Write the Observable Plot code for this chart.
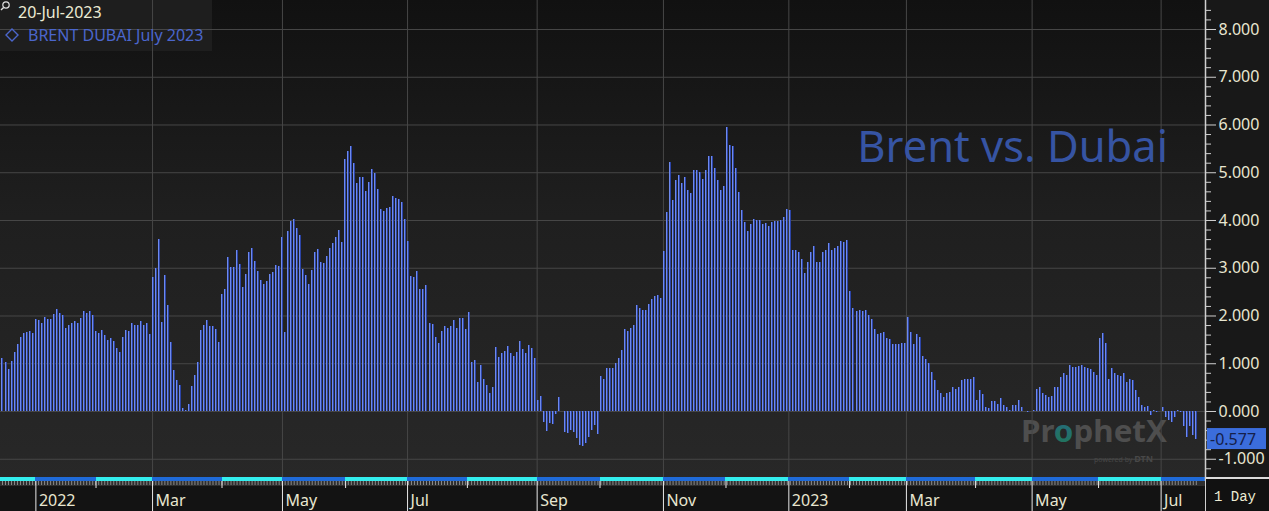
<!DOCTYPE html>
<html>
<head>
<meta charset="utf-8">
<script src="https://cdn.jsdelivr.net/npm/d3@7"></script>
<script src="https://cdn.jsdelivr.net/npm/@observablehq/plot@0.6"></script>
<style>
  html, body { margin: 0; padding: 0; background: #121212; }
  #wrap { position: relative; width: 1269px; height: 511px; overflow: hidden; font-family: "Noto Sans", "Open Sans", sans-serif; }
  .layer { position: absolute; left: 0; top: 0; }
</style>
</head>
<body>
<div id="wrap">
  <div class="layer" style="width:1205px;height:481px;background:linear-gradient(#111111 0%, #1f1f1f 45%, #282828 100%);"></div>
  <div class="layer" style="left:1205px;width:64px;height:511px;background:#181818;"></div>
  <div class="layer" style="top:481px;width:1205px;height:30px;background:#131313;"></div>
  <div class="layer" style="top:481px;width:1205px;height:5px;background:#2e2e2e;"></div>
  <div class="layer" style="width:212px;height:51px;background:#1e1e1e;"></div>
  <div id="under" class="layer"></div>
  <div id="chart" class="layer"></div>
  <div id="over" class="layer"></div>
</div>
<script>
// ---- data ----
const seriesName = "BRENT DUBAI July 2023";
const lastDate = "20-Jul-2023";
const chartTitle = "Brent vs. Dubai";
const lastLabel = "-0.577";

// daily spread values (trading days, Dec 2021 .. 20 Jul 2023)
const values = [
  1.10, 1.03, 0.88, 1.05, 1.24, 1.41, 1.55, 1.64, 1.66, 1.67,
  1.64, 1.92, 1.90, 1.85, 1.97, 1.92, 1.92, 2.04, 2.13, 2.06,
  2.01, 1.74, 1.81, 1.85, 1.88, 1.85, 1.95, 2.10, 2.06, 2.09,
  2.02, 1.67, 1.64, 1.69, 1.60, 1.48, 1.52, 1.46, 1.32, 1.24,
  1.55, 1.69, 1.67, 1.85, 1.81, 1.80, 1.88, 1.81, 1.85, 1.62,
  2.81, 3.00, 3.61, 1.87, 2.84, 2.22, 1.44, 0.86, 0.65, 0.54,
  0.07, 0.02, 0.14, 0.53, 0.75, 1.02, 1.70, 1.80, 1.91, 1.77,
  1.77, 1.72, 1.44, 2.46, 2.56, 3.23, 3.02, 3.02, 3.37, 3.08,
  2.60, 2.86, 3.34, 3.41, 3.14, 2.93, 2.74, 2.65, 2.72, 2.86,
  2.92, 3.06, 3.04, 3.65, 1.66, 3.76, 3.98, 4.03, 3.84, 3.69,
  2.97, 2.85, 2.67, 2.95, 3.34, 3.39, 3.13, 3.09, 3.25, 3.41,
  3.51, 3.65, 3.79, 3.53, 5.28, 5.44, 5.54, 5.19, 4.77, 4.89,
  4.91, 4.61, 4.80, 5.07, 4.98, 4.65, 4.23, 4.19, 4.26, 4.28,
  4.51, 4.47, 4.44, 4.38, 4.02, 3.56, 2.82, 2.80, 2.94, 2.55,
  2.55, 2.64, 1.84, 1.82, 1.54, 1.43, 1.68, 1.77, 1.73, 1.77,
  1.91, 1.73, 1.94, 1.94, 1.71, 2.08, 1.03, 1.07, 0.61, 0.96,
  0.68, 0.54, 0.38, 0.50, 1.33, 1.14, 1.21, 1.26, 1.36, 1.21,
  1.15, 1.24, 1.47, 1.29, 1.21, 1.38, 1.31, 1.10, 0.23, 0.31,
  -0.22, -0.41, -0.26, -0.27, -0.06, 0.29, -0.01, -0.43, -0.47, -0.40,
  -0.45, -0.57, -0.71, -0.73, -0.66, -0.54, -0.40, -0.29, -0.48, 0.73,
  0.66, 0.89, 0.89, 0.91, 1.00, 1.10, 1.28, 1.71, 1.68, 1.73,
  1.80, 2.22, 2.15, 2.12, 2.12, 2.25, 2.34, 2.41, 2.43, 2.36,
  3.35, 4.17, 5.22, 4.42, 4.84, 4.94, 4.77, 4.91, 4.63, 4.56,
  5.05, 5.05, 5.01, 4.86, 5.05, 5.35, 5.33, 5.08, 4.84, 4.63,
  4.72, 5.95, 5.56, 5.54, 5.08, 4.58, 4.21, 3.95, 3.77, 3.91,
  4.02, 4.00, 4.00, 3.91, 3.93, 3.88, 3.95, 3.97, 3.97, 4.00,
  4.07, 4.23, 4.21, 3.37, 3.37, 3.34, 3.18, 2.88, 3.13, 3.32,
  3.46, 3.11, 3.13, 3.34, 3.37, 3.51, 3.37, 3.41, 3.46, 3.55,
  3.53, 3.58, 2.51, 2.15, 2.09, 2.12, 2.09, 2.12, 2.01, 1.93,
  1.71, 1.61, 1.64, 1.66, 1.52, 1.50, 1.40, 1.40, 1.40, 1.42,
  1.43, 1.96, 1.66, 1.40, 1.61, 1.56, 1.15, 1.08, 1.01, 0.82,
  0.64, 0.44, 0.37, 0.29, 0.38, 0.40, 0.50, 0.47, 0.50, 0.64,
  0.68, 0.66, 0.66, 0.72, 0.23, 0.45, 0.36, 0.09, 0.06, 0.20,
  0.20, 0.15, 0.27, 0.13, 0.08, 0.03, 0.13, 0.13, 0.22, 0.08,
  0.01, -0.03, -0.01, 0.03, 0.47, 0.50, 0.38, 0.34, 0.30, 0.31,
  0.51, 0.50, 0.72, 0.79, 0.75, 0.96, 0.93, 0.93, 0.94, 0.96,
  0.93, 0.89, 0.87, 0.82, 0.75, 1.52, 1.63, 1.43, 0.68, 0.89,
  0.79, 0.75, 0.73, 0.79, 0.61, 0.68, 0.65, 0.43, 0.29, 0.13,
  0.09, 0.10, -0.08, 0.02, -0.03, 0.01, 0.08, -0.12, -0.19, -0.22,
  -0.12, 0.02, -0.03, -0.31, -0.54, -0.31, -0.50, -0.577
];

// month boundaries, in trading-day index units
const monthStarts = [-0.7, 11.1, 31.1, 49.9, 73.0, 93.1, 114.1, 134.7, 154.6, 177.8,
                     198.7, 219.8, 240.6, 261.5, 281.7, 300.6, 323.6, 342.4, 364.5, 385.3];
const monthEnd = 400.1;
const monthLabels = ["", "2022", "", "Mar", "", "May", "", "Jul", "", "Sep",
                     "", "Nov", "", "2023", "", "Mar", "", "May", "", "Jul"];
const gridMonths = [49.9, 93.1, 134.7, 177.8, 219.8, 261.5, 300.6, 342.4, 385.3];

const yTicks = [-1, 0, 1, 2, 3, 4, 5, 6, 7, 8];
const yMinorTicks = [-1.4, -1.2, -0.8, -0.6, -0.4, -0.2, 0.2, 0.4, 0.6, 0.8, 1.2, 1.4, 1.6, 1.8,
  2.2, 2.4, 2.6, 2.8, 3.2, 3.4, 3.6, 3.8, 4.2, 4.4, 4.6, 4.8, 5.2, 5.4, 5.6, 5.8,
  6.2, 6.4, 6.6, 6.8, 7.2, 7.4, 7.6, 7.8, 8.2, 8.4];

// ---- derived tables ----
const bars = values.map((v, i) => ({i, v}));
const months = monthStarts.map((s, k) => ({
  start: s, end: k + 1 < monthStarts.length ? monthStarts[k + 1] : monthEnd,
  label: monthLabels[k], band: k % 2 === 0 ? "c" : "b"
}));
const labeled = months.filter(m => m.label !== "");
const unlabeled = months.filter((m, k) => m.label === "" && k > 0);

const cream = "#e8e6d0";
const chart = Plot.plot({
  width: 1269, height: 511,
  marginLeft: 0, marginRight: 64, marginTop: 0, marginBottom: 30,
  style: {background: "transparent", color: cream, fontFamily: "'Noto Sans', 'Open Sans', sans-serif", fontSize: "16px", overflow: "visible"},
  x: {type: "linear", domain: [-0.665, 400.06], axis: null},
  y: {domain: [-1.466, 8.607], axis: null},
  marks: [
    Plot.gridY(yTicks, {stroke: "#474747", strokeOpacity: 1}),
    Plot.gridX(gridMonths, {stroke: "#474747", strokeOpacity: 1}),
    Plot.ruleX(bars, {x: "i", y1: 0, y2: "v", stroke: "#2c44a6", strokeWidth: 2, shapeRendering: "crispEdges"}),
    Plot.ruleX(bars, {x: "i", y1: 0, y2: "v", stroke: "#6f8aec", strokeWidth: 1, dx: -0.5, shapeRendering: "crispEdges"}),
    Plot.rect(months, {x1: "start", x2: "end", y1: -1.466, y2: -1.382, fill: d => d.band === "c" ? "#33eeee" : "#1f6ad8", clip: true, shapeRendering: "crispEdges"}),
    Plot.axisX(bars.map(d => d.i), {anchor: "bottom", label: null, tickSize: 4, tickFormat: () => "", stroke: "#8a8a8a"}),
    Plot.axisX(unlabeled.map(d => d.start), {anchor: "bottom", label: null, tickSize: 7, tickFormat: () => "", stroke: "#e8e8e8"}),
    Plot.axisX(labeled.map(d => d.start), {anchor: "bottom", label: null, tickSize: 30, tickFormat: () => "", stroke: "#e8e8e8"}),
    Plot.text(labeled, {x: "start", text: "label", frameAnchor: "bottom", textAnchor: "start", lineAnchor: "bottom", dx: 3, dy: 24, fill: cream, fontSize: 16}),
    Plot.axisY(yMinorTicks, {anchor: "right", label: null, tickSize: 5, tickFormat: () => "", stroke: "#d0d0d0"}),
    Plot.axisY(yTicks, {anchor: "right", label: null, tickSize: 10, tickPadding: 3, tickFormat: d => d.toFixed(3), stroke: "#d0d0d0", fill: cream, fontSize: 16}),
    Plot.ruleX([400.06], {stroke: "#cfcfcf", strokeWidth: 1.5})
  ]
});
document.getElementById("chart").appendChild(chart);

// ---- decorations ----
const yPos = chart.scale("y").apply(values[values.length - 1]);

const under = d3.select("#under").append("svg").attr("width", 1269).attr("height", 511);
const defs = under.append("defs");
const lg = defs.append("linearGradient").attr("id", "og").attr("x1", "0").attr("y1", "1").attr("x2", "1").attr("y2", "0");
lg.append("stop").attr("offset", "0").attr("stop-color", "#1f7a45");
lg.append("stop").attr("offset", "1").attr("stop-color", "#2a5fae");
const wm = under.append("text").attr("x", 1021).attr("y", 442)
  .attr("font-family", "'Noto Sans', sans-serif").attr("font-weight", 700).attr("font-size", 30)
  .attr("textLength", 146).attr("lengthAdjust", "spacingAndGlyphs").attr("fill", "#4e4e4e");
wm.append("tspan").text("Pr");
wm.append("tspan").attr("fill", "url(#og)").text("o");
wm.append("tspan").text("phetX");
const pw = under.append("text").attr("x", 1094).attr("y", 462)
  .attr("font-family", "'Noto Sans', sans-serif").attr("font-size", 7).attr("fill", "#484848");
pw.append("tspan").text("powered by ");
pw.append("tspan").attr("font-weight", 700).attr("font-size", 9).text("DTN");

const over = d3.select("#over").append("svg").attr("width", 1269).attr("height", 511);
// title
over.append("text").attr("x", 1168).attr("y", 162).attr("text-anchor", "end")
  .attr("font-family", "'Noto Sans', sans-serif").attr("font-size", 43.5).attr("fill", "#3654a3")
  .text(chartTitle);
// legend
const g = over.append("g");
g.append("circle").attr("cx", 6).attr("cy", 5).attr("r", 3.2).attr("fill", "none").attr("stroke", "#e0e0e0").attr("stroke-width", 1.2);
g.append("line").attr("x1", 3.6).attr("y1", 7.4).attr("x2", 1).attr("y2", 10).attr("stroke", "#e0e0e0").attr("stroke-width", 1.4);
g.append("text").attr("x", 18).attr("y", 18).attr("font-family", "'Noto Sans', sans-serif").attr("font-size", 16).attr("fill", "#ecebd4").text(lastDate);
g.append("path").attr("d", "M12,29 L18,35 L12,41 L6,35 Z").attr("fill", "none").attr("stroke", "#4b66cc").attr("stroke-width", 1.4);
g.append("text").attr("x", 28).attr("y", 41).attr("font-family", "'Noto Sans', sans-serif").attr("font-size", 16).attr("fill", "#4b66cc").text(seriesName);
// last value tag
over.append("rect").attr("x", 1207).attr("y", yPos - 10.5).attr("width", 59).attr("height", 21).attr("fill", "#3b6ddc");
over.append("text").attr("x", 1210).attr("y", yPos + 6).attr("font-family", "'Noto Sans', sans-serif").attr("font-size", 16).attr("fill", "#15204a").text(lastLabel);
// 1 Day box
over.append("rect").attr("x", 1205).attr("y", 477).attr("width", 64).attr("height", 34).attr("fill", "#111111");
over.append("line").attr("x1", 1205).attr("x2", 1269).attr("y1", 478).attr("y2", 478).attr("stroke", "#dcdcdc").attr("stroke-width", 2);
over.append("line").attr("x1", 1205.5).attr("x2", 1205.5).attr("y1", 477).attr("y2", 511).attr("stroke", "#cfcfcf").attr("stroke-width", 1);
over.append("text").attr("x", 1214).attr("y", 501).attr("font-family", "'Liberation Mono', 'DejaVu Sans Mono', monospace").attr("font-size", 14).attr("fill", "#ecebd4").text("1 Day");
</script>
</body>
</html>
